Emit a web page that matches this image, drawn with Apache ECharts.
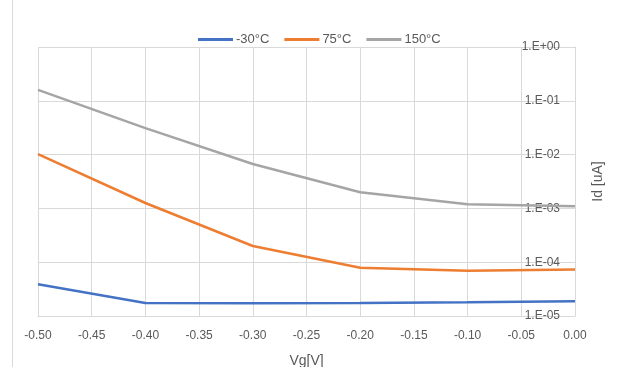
<!DOCTYPE html>
<html>
<head>
<meta charset="utf-8">
<script src="https://cdn.jsdelivr.net/npm/echarts@6/dist/echarts.min.js"></script>
<style>html,body{margin:0;padding:0;background:#fff}#c{width:623px;height:367px}</style>
</head>
<body>
<div id="c"></div>
<script>
var vg = [-0.5, -0.4, -0.3, -0.2, -0.1, 0.0];
var seriesNames = ['-30°C', '75°C', '150°C'];
var idM30 = [3.9e-5, 1.74e-5, 1.72e-5, 1.75e-5, 1.8e-5, 1.88e-5];
var id75 = [1.02e-2, 1.26e-3, 2.0e-4, 7.9e-5, 6.9e-5, 7.3e-5];
var id150 = [0.16, 0.031, 6.7e-3, 2.0e-3, 1.2e-3, 1.1e-3];
var colors = ['#4472C4', '#ED7D31', '#A5A5A5'];

function pairs(ys){ return vg.map(function(x,i){ return [x, ys[i]]; }); }
var allData = [idM30, id75, id150];
var font = 'Liberation Sans';
var chart = echarts.init(document.getElementById('c'), null, {renderer:'canvas'});
chart.setOption({
  animation: false,
  backgroundColor: '#fff',
  graphic: [{type:'line', shape:{x1:12.5,y1:0,x2:12.5,y2:367}, style:{stroke:'#d9d9d9', lineWidth:1}}],
  legend: {
    top: 28, left: 193,
    itemWidth: 35, itemHeight: 3, itemGap: 15, icon: 'rect',
    textStyle: {color:'#595959', fontSize:13, fontFamily: font, padding:[0,0,0,-2]},
    data: seriesNames
  },
  grid: {left: 38, right: 48, top: 47, bottom: 51, containLabel:false, outerBoundsMode:'none'},
  xAxis: {
    type:'value', min:-0.5, max:0, interval:0.05,
    name:'Vg[V]', nameLocation:'middle', nameGap:38,
    nameTextStyle:{color:'#595959', fontSize:14, fontFamily:font},
    axisLine:{show:true, lineStyle:{color:'#d9d9d9'}},
    axisTick:{show:false},
    axisLabel:{color:'#595959', fontSize:12, fontFamily:font, margin:14,
      formatter:function(v){ return (Math.abs(v)<1e-9?0:v).toFixed(2); }},
    splitLine:{show:true, lineStyle:{color:'#d9d9d9'}}
  },
  yAxis: {
    type:'log', logBase:10, min:1e-5, max:1, position:'right',
    name:'Id [uA]', nameLocation:'middle', nameGap:16, nameRotate:90,
    nameTextStyle:{color:'#595959', fontSize:14, fontFamily:font},
    axisLine:{show:true, lineStyle:{color:'#d9d9d9'}},
    axisTick:{show:false},
    axisLabel:{inside:true, margin:15, color:'#595959', fontSize:12, fontFamily:font,
      formatter:function(v){
        var e = Math.round(Math.log10(v));
        var s = Math.abs(e) < 10 ? '0'+Math.abs(e) : ''+Math.abs(e);
        return '1.E' + (e<0?'-':'+') + s;
      }},
    splitLine:{show:true, lineStyle:{color:'#d9d9d9'}}
  },
  series: seriesNames.map(function(n,i){
    return {name:n, type:'line', data:pairs(allData[i]), showSymbol:false, symbol:'none',
      lineStyle:{color:colors[i], width:2.5}, itemStyle:{color:colors[i]}, z: 3+i};
  })
});
</script>
</body>
</html>
